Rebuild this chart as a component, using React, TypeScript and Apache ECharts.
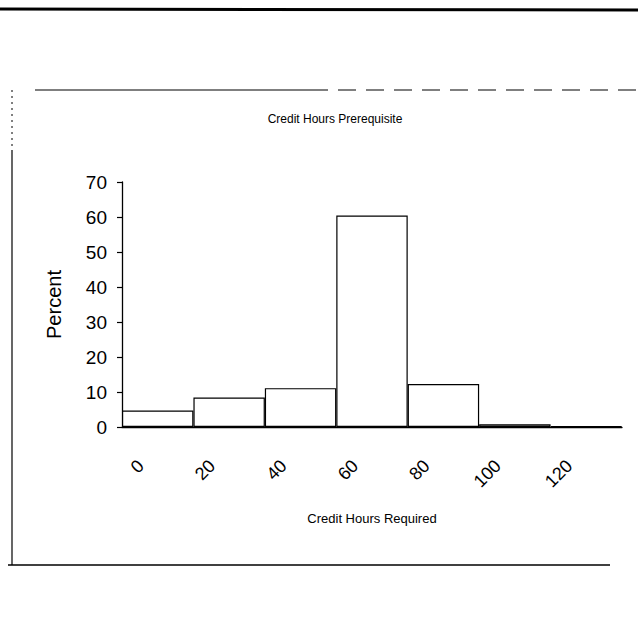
import React, { useEffect, useRef } from "react";
import * as echarts from "echarts";

const categories = ["0", "20", "40", "60", "80", "100", "120"];
const percentValues = [4.7, 8.4, 11.1, 60.4, 12.3, 0.8, 0.2];
const yTicks = { min: 0, max: 70, interval: 10 };

const chartTitle = "Credit Hours Prerequisite";
const xTitle = "Credit Hours Required";
const yTitle = "Percent";

const FONT = "'Liberation Sans', Arial, Helvetica, sans-serif";

export default function App() {
  const ref = useRef<HTMLDivElement>(null);
  useEffect(() => {
    if (!ref.current) return;
    const chart = echarts.init(ref.current, undefined, { renderer: "svg" });
    chart.setOption({
      animation: false,
      backgroundColor: "#ffffff",
      textStyle: { fontFamily: FONT, color: "#000" },
      title: {
        text: chartTitle,
        left: 330,
        top: 108,
        textAlign: "center",
        textStyle: { fontSize: 12, fontWeight: "normal", color: "#000", fontFamily: FONT },
      },
      grid: { left: 122, right: 16, top: 182, bottom: 203, containLabel: false },
      xAxis: {
        type: "category",
        data: categories,
        name: xTitle,
        nameLocation: "middle",
        nameGap: 85,
        nameTextStyle: { fontSize: 13, color: "#000", fontFamily: FONT },
        axisLine: { show: true, lineStyle: { color: "#000", width: 1.3 } },
        axisTick: { show: false },
        axisLabel: {
          rotate: 45,
          fontSize: 18,
          color: "#000",
          margin: 19,
          padding: [0, 24, 0, 0],
          fontFamily: FONT,
        },
        splitLine: { show: false },
      },
      yAxis: {
        type: "value",
        min: yTicks.min,
        max: yTicks.max,
        interval: yTicks.interval,
        name: yTitle,
        nameLocation: "middle",
        nameGap: 58,
        nameRotate: 90,
        nameTextStyle: { fontSize: 20, color: "#000", fontFamily: FONT },
        axisLine: { show: true, lineStyle: { color: "#000", width: 1.3 } },
        axisTick: { show: true, length: 5, lineStyle: { color: "#000", width: 1.2 } },
        axisLabel: { fontSize: 19, color: "#000", margin: 15, fontFamily: FONT },
        splitLine: { show: false },
      },
      series: [
        {
          type: "bar",
          data: percentValues,
          barCategoryGap: "0%",
          itemStyle: { color: "#ffffff", borderColor: "#000", borderWidth: 1.2 },
        },
      ],
      graphic: [
        { type: "line", shape: { x1: 0, y1: 9, x2: 638, y2: 10 }, style: { stroke: "#000", lineWidth: 3 } },
        { type: "line", shape: { x1: 35, y1: 90, x2: 310, y2: 90 }, style: { stroke: "#000", lineWidth: 1.2 } },
        {
          type: "line",
          shape: { x1: 310, y1: 90, x2: 638, y2: 90 },
          style: { stroke: "#000", lineWidth: 1.2, lineDash: [18, 10] },
        },
        {
          type: "line",
          shape: { x1: 12, y1: 90, x2: 12, y2: 150 },
          style: { stroke: "#000", lineWidth: 1, lineDash: [2, 4] },
        },
        { type: "line", shape: { x1: 12, y1: 150, x2: 12, y2: 565 }, style: { stroke: "#000", lineWidth: 1.2 } },
        { type: "line", shape: { x1: 8, y1: 565, x2: 610, y2: 565 }, style: { stroke: "#000", lineWidth: 1.5 } },
      ],
    });
    return () => chart.dispose();
  }, []);
  return (
    <div
      ref={ref}
      style={{ position: "fixed", left: 0, top: 0, width: 638, height: 630, background: "#fff" }}
    />
  );
}
